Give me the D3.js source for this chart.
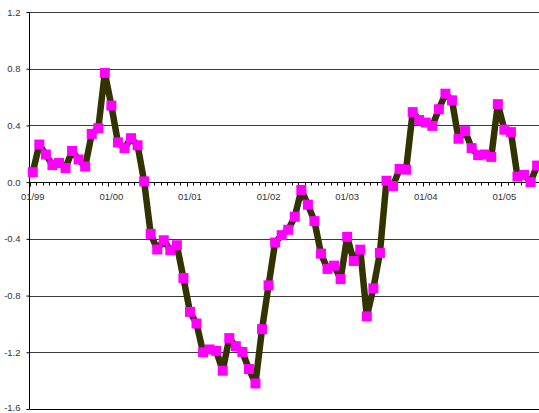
<!DOCTYPE html>
<html>
<head>
<meta charset="utf-8">
<script src="https://cdn.jsdelivr.net/npm/d3@7"></script>
<style>
  html, body { margin: 0; padding: 0; background: #fff; }
  svg { display: block; }
  text { font-family: "Liberation Sans", Arial, sans-serif; }
</style>
</head>
<body>
<svg id="chart" width="539" height="413"></svg>
<script>
// Monthly series, Jan 1999 – Jun 2005
const startYear = 1999;
const values = [
  0.07, 0.265, 0.195, 0.12, 0.135, 0.10, 0.22, 0.16, 0.11, 0.34, 0.38, 0.77,
  0.54, 0.28, 0.24, 0.31, 0.26, 0.005, -0.365, -0.475, -0.41, -0.48, -0.445, -0.676,
  -0.915, -0.997, -1.20, -1.18, -1.19, -1.33, -1.10, -1.157, -1.198, -1.318, -1.42, -1.037,
  -0.728, -0.426, -0.374, -0.336, -0.244, -0.055, -0.159, -0.275, -0.504, -0.612, -0.589, -0.684,
  -0.386, -0.556, -0.476, -0.947, -0.749, -0.499, 0.01, -0.027, 0.093, 0.088, 0.494, 0.438,
  0.42, 0.397, 0.514, 0.624, 0.577, 0.306, 0.36, 0.24, 0.19, 0.195, 0.178, 0.55,
  0.37, 0.353, 0.039, 0.051, 0.0, 0.117
];
const months = values.map((_, i) => {
  const m = i % 12 + 1, y = (startYear + Math.floor(i / 12)) % 100;
  return String(m).padStart(2, "0") + "/" + String(y).padStart(2, "0");
});
const xTickLabels = ["01/99", "01/00", "01/01", "01/02", "01/03", "01/04", "01/05"];
const yTicks = [1.2, 0.8, 0.4, 0.0, -0.4, -0.8, -1.2, -1.6];

const svg = d3.select("#chart");
const W = 539;
const left = 29.5, step = 6.55;

const x = d3.scaleBand().domain(months).range([left, left + months.length * step]).padding(0);
const y = d3.scaleLinear().domain([-1.6, 1.2]).range([409, 12]);

// horizontal gridlines
svg.append("g").selectAll("line")
  .data(yTicks.filter(v => v !== 0))
  .join("line")
  .attr("x1", left).attr("x2", W)
  .attr("y1", d => Math.round(y(d)) + 0.5).attr("y2", d => Math.round(y(d)) + 0.5)
  .attr("stroke", d => d === -1.6 ? "#000" : "#3a3a3a")
  .attr("stroke-width", 1);

// y axis
const yAxis = d3.axisLeft(y).tickValues(yTicks).tickSize(3).tickPadding(6)
  .tickFormat(d3.format(".1f"));
const gy = svg.append("g").attr("transform", `translate(${left},0)`).call(yAxis);
gy.select(".domain").attr("stroke", "#000").attr("d", `M0,${y(1.2)}V${y(-1.6)}`);
gy.selectAll(".tick line").attr("stroke", "#000");
gy.selectAll("text").attr("fill", "#333").style("font-size", "9.5px")
  .attr("y", d => d === -1.6 ? -1.5 : 0)
  .text(d => d3.format(".1f")(d).replace("−", "-"));

// x axis along zero, with monthly tick marks at category boundaries
const zeroY = Math.round(y(0)) + 0.5;
const gx = svg.append("g");
gx.append("line").attr("x1", left).attr("x2", W).attr("y1", zeroY).attr("y2", zeroY)
  .attr("stroke", "#000");
gx.selectAll("line.tk")
  .data(d3.range(months.length + 1))
  .join("line").attr("class", "tk")
  .attr("x1", i => Math.round(left + i * step) + 0.5)
  .attr("x2", i => Math.round(left + i * step) + 0.5)
  .attr("y1", zeroY).attr("y2", i => zeroY + (i % 12 === 0 ? 4 : 3))
  .attr("stroke", "#000");
gx.selectAll("text")
  .data(xTickLabels)
  .join("text")
  .attr("x", d => x(d) + x.bandwidth() / 2)
  .attr("y", zeroY + 17)
  .attr("text-anchor", "middle")
  .attr("fill", "#333")
  .style("font-size", "9.5px")
  .text(d => d);

// series line
const line = d3.line()
  .x((d, i) => x(months[i]) + x.bandwidth() / 2)
  .y(d => y(d));
svg.append("path")
  .datum(values)
  .attr("d", line)
  .attr("fill", "none")
  .attr("stroke", "#333300")
  .attr("stroke-width", 6.5)
  .attr("stroke-linejoin", "round")
  .attr("stroke-linecap", "round");

// square markers
const ms = 10;
svg.append("g").selectAll("rect")
  .data(values)
  .join("rect")
  .attr("x", (d, i) => x(months[i]) + x.bandwidth() / 2 - ms / 2)
  .attr("y", d => y(d) - ms / 2)
  .attr("width", ms).attr("height", ms)
  .attr("fill", "#ff00ff");
</script>
</body>
</html>
